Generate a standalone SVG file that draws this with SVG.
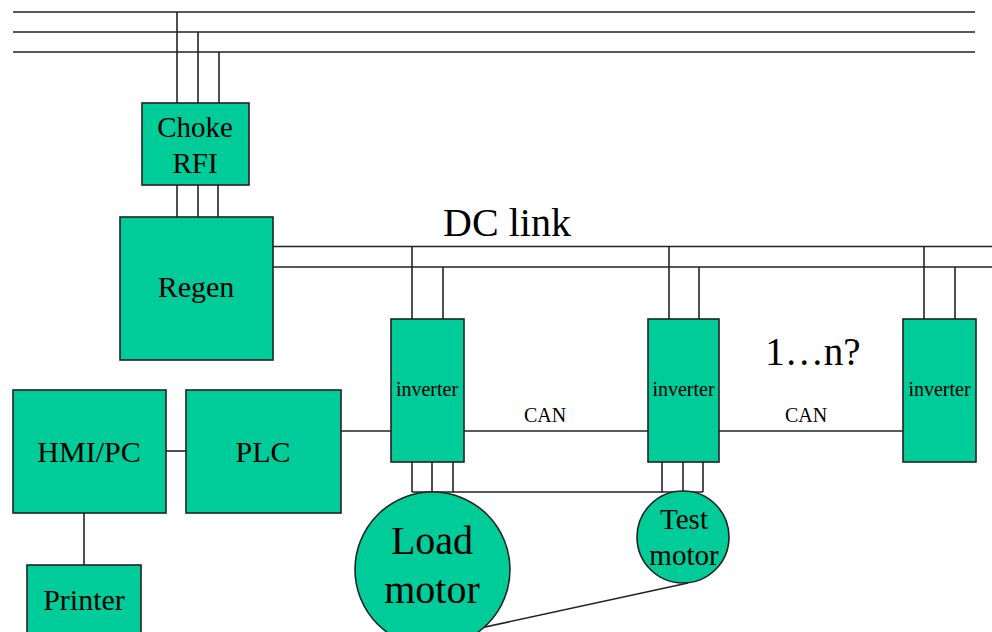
<svg xmlns="http://www.w3.org/2000/svg" width="992" height="632" viewBox="0 0 992 632">
<style>
.n{fill:#00CC99;stroke:#222;stroke-width:1.6}
.w{stroke:#222;stroke-width:1.6;fill:none}
text{font-family:"Liberation Serif","Times New Roman",serif;fill:#000;text-anchor:middle}
</style>
<rect width="992" height="632" fill="#fff"/>
<g id="connectors" class="w">
<line x1="13" y1="12" x2="975" y2="12"/>
<line x1="13" y1="32" x2="975" y2="32"/>
<line x1="13" y1="52" x2="975" y2="52"/>
<line x1="177" y1="12" x2="177" y2="103"/>
<line x1="198" y1="32" x2="198" y2="103"/>
<line x1="219" y1="52" x2="219" y2="103"/>
<line x1="177" y1="185" x2="177" y2="217"/>
<line x1="198" y1="185" x2="198" y2="217"/>
<line x1="218" y1="185" x2="218" y2="217"/>
<line x1="273" y1="246.5" x2="992" y2="246.5"/>
<line x1="273" y1="267" x2="992" y2="267"/>
<line x1="412" y1="246.5" x2="412" y2="319"/>
<line x1="443" y1="267" x2="443" y2="319"/>
<line x1="669" y1="246.5" x2="669" y2="319"/>
<line x1="699" y1="267" x2="699" y2="319"/>
<line x1="924" y1="246.5" x2="924" y2="319"/>
<line x1="955" y1="267" x2="955" y2="319"/>
<line x1="341" y1="431" x2="903" y2="431"/>
<line x1="166" y1="451" x2="186" y2="451"/>
<line x1="84" y1="513" x2="84" y2="565"/>
<line x1="412" y1="462" x2="412" y2="492"/>
<line x1="432" y1="462" x2="432" y2="492"/>
<line x1="453" y1="462" x2="453" y2="492"/>
<line x1="662" y1="462" x2="662" y2="492"/>
<line x1="683" y1="462" x2="683" y2="492"/>
<line x1="703" y1="462" x2="703" y2="492"/>
<line x1="412" y1="492" x2="703" y2="492"/>
<line x1="688" y1="583" x2="462" y2="632"/>
</g>
<g id="choke"><rect class="n" x="142" y="103" width="107" height="82"/><text x="195" y="137" font-size="29">Choke</text><text x="195" y="173" font-size="29">RFI</text></g>
<g id="regen"><rect class="n" x="120" y="217" width="153" height="143"/><text x="196" y="297" font-size="30">Regen</text></g>
<g id="inverter1"><rect class="n" x="391" y="319" width="73" height="143"/><text x="427" y="396" font-size="20">inverter</text></g>
<g id="inverter2"><rect class="n" x="648" y="319" width="71" height="143"/><text x="683.5" y="396" font-size="20">inverter</text></g>
<g id="inverter3"><rect class="n" x="903" y="319" width="73" height="143"/><text x="939.5" y="396" font-size="20">inverter</text></g>
<g id="hmi"><rect class="n" x="13" y="390" width="153" height="123"/><text x="89" y="462" font-size="30">HMI/PC</text></g>
<g id="plc"><rect class="n" x="186" y="390" width="155" height="123"/><text x="263" y="462" font-size="30">PLC</text></g>
<g id="printer"><rect class="n" x="27" y="565" width="114" height="80"/><text x="84" y="610" font-size="30">Printer</text></g>
<g id="loadmotor"><circle class="n" cx="432.5" cy="569.5" r="77.5"/><text x="432" y="554" font-size="40">Load</text><text x="432" y="603" font-size="40">motor</text></g>
<g id="testmotor"><circle class="n" cx="683" cy="537" r="46"/><text x="684" y="529" font-size="29">Test</text><text x="684" y="565" font-size="29">motor</text></g>
<g id="labels">
<text x="507" y="236" font-size="40">DC link</text>
<text x="545" y="422" font-size="20">CAN</text>
<text x="806" y="422" font-size="20">CAN</text>
<text x="813" y="365" font-size="39">1…n?</text>
</g>
</svg>
